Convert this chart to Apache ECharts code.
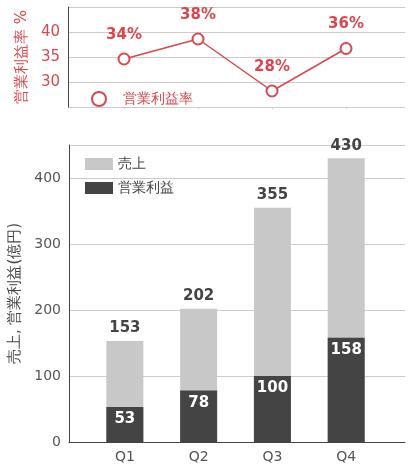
<!DOCTYPE html>
<html><head><meta charset="utf-8">
<script src="https://cdn.jsdelivr.net/npm/echarts@6/dist/echarts.min.js"></script>
<style>html,body{margin:0;padding:0;background:#fff}#c{width:409px;height:471px}</style>
</head><body><div id="c"></div>
<script>
const categories = ['Q1','Q2','Q3','Q4'];
const sales = [153, 202, 355, 430];
const profit = [53, 78, 100, 158];
const rate = [34.6, 38.6, 28.2, 36.7];
const catPos = [1, 2, 3, 4];

const font = '"DejaVu Sans", sans-serif';
const red = '#d9474f';
const xCommon = {type:'value', min:0.243, max:4.797, splitLine:{show:false}};
const chart = echarts.init(document.getElementById('c'));
chart.setOption({
  animation:false,
  textStyle:{fontFamily:font},
  grid:[{left:68,right:4,top:7,height:100},{left:68,right:4,top:145,height:297}],
  legend:[
    {left:86,top:86,itemWidth:22,itemHeight:14,data:[{name:'営業利益率',icon:'emptyCircle'}],
     textStyle:{color:red,fontSize:14,padding:[0,0,0,8],fontFamily:font}},
    {left:80,top:152,orient:'vertical',itemWidth:28,itemHeight:12,itemGap:10,
     data:[{name:'売上',icon:'rect'},{name:'営業利益',icon:'rect'}],
     textStyle:{color:'#444',fontSize:14,fontFamily:font}}
  ],
  xAxis:[
    Object.assign({gridIndex:0,axisLine:{show:false},axisTick:{show:true,customValues:catPos,length:2,lineStyle:{color:'#ccc'}},axisLabel:{show:false}},xCommon),
    Object.assign({gridIndex:1,axisLine:{lineStyle:{color:'#444'}},axisTick:{show:false},
      axisLabel:{customValues:catPos,formatter:v=>categories[Math.round(v)-1],color:'#555',fontSize:14,fontFamily:font}},xCommon)
  ],
  yAxis:[
    {gridIndex:0,type:'value',min:25,max:45,interval:5,
     name:'営業利益率 %',nameLocation:'middle',nameGap:38,nameTextStyle:{color:red,fontSize:15,fontFamily:font},
     axisLine:{show:true,lineStyle:{color:'#444'}},axisTick:{show:false},
     axisLabel:{color:red,fontSize:15,showMinLabel:false,showMaxLabel:false,fontFamily:font},
     splitLine:{lineStyle:{color:'#ccc'}}},
    {gridIndex:1,type:'value',min:0,max:450,interval:100,
     name:'売上, 営業利益(億円)',nameLocation:'middle',nameGap:46,nameTextStyle:{color:'#444',fontSize:15,fontFamily:font},
     axisLine:{show:true,lineStyle:{color:'#444'}},axisTick:{show:false},
     axisLabel:{color:'#555',fontSize:14,showMaxLabel:false,fontFamily:font},
     splitLine:{lineStyle:{color:'#ccc'}}}
  ],
  series:[
    {name:'営業利益率',type:'line',xAxisIndex:0,yAxisIndex:0,data:rate.map((r,i)=>[catPos[i],r]),
     symbol:'emptyCircle',symbolSize:11,lineStyle:{color:red,width:1.5},itemStyle:{color:red,borderWidth:2},
     label:{show:true,position:'top',distance:10,color:red,fontWeight:'bold',fontSize:15,fontFamily:font,
       formatter:p=>Math.floor(p.value[1])+'%'}},
    {name:'売上',type:'bar',xAxisIndex:1,yAxisIndex:1,barWidth:37,barGap:'-100%',z:2,
     data:sales.map((v,i)=>[catPos[i],v]),itemStyle:{color:'#c8c8c8'},
     label:{show:true,position:'top',color:'#444',fontWeight:'bold',fontSize:15,fontFamily:font,
       formatter:p=>p.value[1]}},
    {name:'営業利益',type:'bar',xAxisIndex:1,yAxisIndex:1,barWidth:37,barGap:'-100%',z:3,
     data:profit.map((v,i)=>[catPos[i],v]),itemStyle:{color:'#444'},
     label:{show:true,position:'insideTop',color:'#fff',fontWeight:'bold',fontSize:15,fontFamily:font,
       formatter:p=>p.value[1]}}
  ]
});
</script></body></html>
